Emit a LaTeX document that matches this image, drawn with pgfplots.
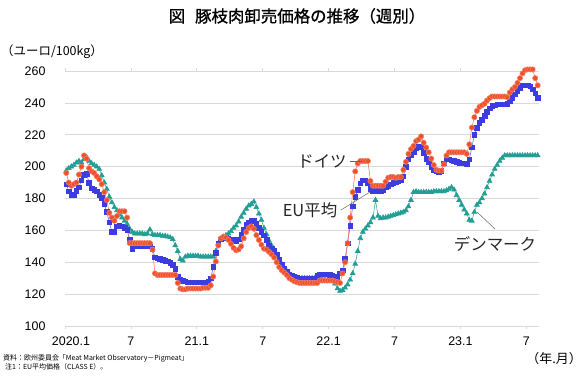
\documentclass[border=0pt]{standalone}
\usepackage{fontspec}
\setmainfont{Liberation Sans}
\newfontfamily\jp{Noto Sans CJK JP}
\newfontfamily\jpb[FakeBold=1]{Noto Sans CJK JP}
\usepackage{pgfplots}
\pgfplotsset{compat=1.18}
\usepackage{pgfplotstable}

\definecolor{deC}{RGB}{240,80,40}
\definecolor{deL}{RGB}{240,125,100}
\definecolor{euC}{RGB}{60,60,225}
\definecolor{euL}{RGB}{105,105,232}
\definecolor{dkC}{RGB}{35,158,148}
\definecolor{dkL}{RGB}{70,170,162}
\definecolor{gridC}{RGB}{217,217,217}

\pgfplotstableread{
de eu dk
196 189 197.5
190 184.5 199
188 182.5 200
189 182.5 201
190 185 202.5
195 187 203.5
200 191.5 202.5
207 195 204.5
205 195.5 206
199 190 203.5
197 186.5 202
196 185.5 201
194 184.5 200
192 182.5 198.5
189 180.5 194.5
184 176.5 190
179 171.5 186
171 165 181
168 159 177.5
166 159 174.5
169 162.5 172.5
172 163 170
172 162.5 168
172 161.5 166
168 160.5 164
152 154 161
152 148.5 159
152 150 158
152 150.5 158
152 150.5 158
152 150.5 158
152 150.5 157.5
152 150.5 158
152 150 160.5
148 148.5 157.5
133 143 157
132 142.5 157
132 142 157
132 141.5 156.5
132 141 156.5
132 140.5 156
132 139.5 155.5
132 138.5 154.5
132 136 150.5
127 131 147
123.5 129 142
123 128.5 141
123 128 143.5
123.5 127.5 144
123.5 127.5 144
123.5 127.5 144
123.5 127.5 144
123.5 127.5 144
123.5 127.5 143.5
124 127.5 143.5
124 127.5 143.5
124 128 143.5
125.5 130 143.5
131 137 143.5
140.5 146 147
150.5 152 152
155 154.5 154
156 155.5 156
155.5 155.5 157
154 155 158
151.5 154.5 159.5
149 154 161.5
147.5 153.5 163
148 154.5 165.5
150 157.5 168.5
155 160.5 171
159 163.5 173.5
161.5 165 175.5
162.5 166 176.5
161 166 178
157 164 174.5
154 161.5 170.5
151 159 166.5
148.5 157 161.5
148 154 157.5
146.5 150.5 153.5
145 148.5 150.5
143 147 147.5
140 144.5 144.5
137 141.5 141.5
135 138.5 139
133.5 136 136.5
132 134 134.5
130 132.5 133
129 131.5 131.5
128 131 131
127.5 130.5 130.5
127 130 130
127 130 130
127 129.5 130
127 129.5 130
127 129.5 130
127 129.5 130
127 130 130
127 131.5 129.5
128.5 132.5 129.5
128.5 132.5 129.5
128.5 132.5 129
128.5 132.5 129
128.5 132 129
128.5 131.5 128.5
128 131 126.5
127.5 130 123.5
127 133 122
133 135 122.5
140 142 124
152 152 126
168 163 129
184 175 133
197 181 139
202 185.5 147
203.5 189.5 155
203.5 191.5 159
203.5 191.5 161
203.5 190 163
191 186 165
188 185 168
188 185 179
188 185 169
188 185 167.5
188 185.5 168
190.5 187 168
193 188 168.5
193.5 189 169
193.5 190 169.5
193 190.5 170
193.5 191 170.5
193.5 191.5 171
198 194 171.5
203 200 172.5
208 204.5 175
211 207 179
213 209 184
216 211.5 184.5
217 212.5 184
219 212 184
215 208.5 184
212 205 184
209 203 184
205 200 184
201 198 184.5
198 197 184.5
197.5 196.5 184.5
197.5 197.5 184.5
201.5 202 184.5
207 204.5 185
209 204.5 186
209 204 187
209 203.5 185.5
209 203 182
209 202.5 179
209 202 176
209 202 173
208 201.5 170.5
214 204.5 166.5
224.5 212 166
231 220 171.5
235 224.5 176
237.5 227.5 177.5
238.5 229.5 180
239.5 232 183
241.5 234.5 187
243 236.5 191
244 238 195
244 238.5 198.5
244 239 201
244 239 203.5
244 239 205.5
244 239 207
243.5 239.5 207
246.5 241 207
248.5 243 207
250 245.5 207
252.5 247.5 207
255.5 249.5 207
258.5 251 207
260.5 251 207
261 251 207
261 250.5 207
261 248.5 207
255.5 246 207
251 243 207
}\pricedata

\begin{document}
\begin{tikzpicture}
\useasboundingbox (0,0) rectangle (582bp,382bp);
\begin{axis}[
  at={(65bp,56bp)}, anchor=south west, scale only axis,
  width=474bp, height=255bp,
  xmin=0, xmax=187, ymin=100, ymax=260,
  ytick={100,120,...,260},
  xtick={0,26,52,78,104,130,156,182},
  xticklabels={\hspace*{12bp}2020.1,7,21.1,7,22.1,7,23.1,7},
  ymajorgrids, grid style={gridC, line width=0.7bp},
  axis line style={draw=none},
  tick align=outside,
  xtick style={draw=gridC, line width=0.7bp},
  major tick length=3bp,
  ytick style={draw=none},
  ticklabel style={font=\fontsize{12.5}{14}\selectfont, text=black},
  /pgf/number format/assume math mode=true,
  yticklabel style={xshift=-13bp},
  xticklabel style={yshift=-4bp},
  clip=false,
]
\addplot[dkL, line width=0.6bp, mark=triangle*, mark size=2.8bp,
  mark options={fill=dkC, draw=dkC, solid}]
  table[x expr=\coordindex+0.5, y=dk]{\pricedata};
\addplot[euL, line width=0.6bp, mark=square*, mark size=2.3bp,
  mark options={fill=euC, draw=euC, solid}]
  table[x expr=\coordindex+0.5, y=eu]{\pricedata};
\addplot[deL, line width=0.6bp, mark=*, mark size=2.6bp,
  mark options={fill=deC, draw=deL, solid}]
  table[x expr=\coordindex+0.5, y=de]{\pricedata};
\end{axis}

% title and labels
\node[font=\jpb\fontsize{16.5}{18}\selectfont] at (297bp,366bp) {図\hspace{0.6em}豚枝肉卸売価格の推移（週別）};
\node[anchor=west, font=\jp\fontsize{12.5}{14}\selectfont, inner sep=0pt] at (1bp,330bp) {（ユーロ/100kg）};
\node[anchor=east, font=\jp\fontsize{13}{14}\selectfont, inner sep=0pt] at (582bp,23bp) {（年.月）};
\node[anchor=west, font=\jp\fontsize{7}{8}\selectfont, inner sep=0pt] at (3bp,24bp) {資料：欧州委員会「Meat Market Observatory－Pigmeat」};
\node[anchor=west, font=\jp\fontsize{7}{8}\selectfont, inner sep=0pt] at (5bp,15bp) {注1：EU平均価格（CLASS E）。};

% annotations
\node[font=\jp\fontsize{16.5}{18}\selectfont, inner sep=0pt, text=black!85] at (322bp,221bp) {ドイツ};
\draw[gray!80!black, line width=0.5bp] (350bp,221bp) -- (362bp,221bp);
\node[font=\jp\fontsize{16.5}{18}\selectfont, inner sep=0pt, text=black!85] at (310bp,172bp) {EU平均};
\draw[gray!80!black, line width=0.5bp] (341bp,172bp) -- (370bp,190bp);
\node[font=\jp\fontsize{16.5}{18}\selectfont, inner sep=0pt, text=black!85] at (495bp,138bp) {デンマーク};
\draw[gray!80!black, line width=0.5bp] (495bp,153bp) -- (477bp,170bp);
\end{tikzpicture}
\end{document}
